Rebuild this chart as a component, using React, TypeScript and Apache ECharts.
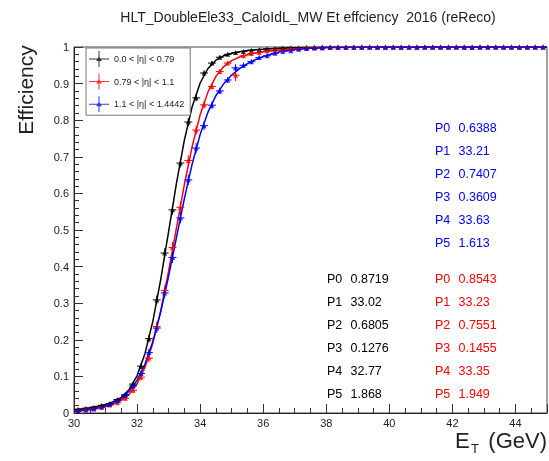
import React, { useEffect, useRef } from "react";
import * as echarts from "echarts";

const xBins = [30.125, 30.375, 30.625, 30.875, 31.125, 31.375, 31.625, 31.875, 32.125, 32.375, 32.625, 32.875, 33.125, 33.375, 33.625, 33.875, 34.125, 34.375, 34.625, 34.875, 35.125, 35.375, 35.625, 35.875, 36.125, 36.375, 36.625, 36.875, 37.125, 37.375, 37.625, 37.875, 38.125, 38.375, 38.625, 38.875, 39.125, 39.375, 39.625, 39.875, 40.125, 40.375, 40.625, 40.875, 41.125, 41.375, 41.625, 41.875, 42.125, 42.375, 42.625, 42.875, 43.125, 43.375, 43.625, 43.875, 44.125, 44.375, 44.625, 44.875];
const binHalfWidth = 0.125;

const blackEff = [0.010, 0.013, 0.016, 0.021, 0.025, 0.037, 0.050, 0.079, 0.128, 0.203,
  0.309, 0.437, 0.555, 0.683, 0.795, 0.861, 0.929, 0.956, 0.972, 0.980,
  0.985, 0.988, 0.991, 0.993, 0.995, 0.996, 0.997, 0.998, 0.998, 0.999,
  0.999, 1.000, 0.999, 1.000, 0.999, 0.999, 1.000, 1.000, 0.999, 1.000,
  1.000, 0.999, 1.000, 1.000, 1.000, 0.999, 1.000, 1.000, 1.000, 1.000,
  0.999, 1.000, 1.000, 1.000, 1.000, 1.000, 0.999, 1.000, 1.000, 1.000];
const blackErr = [0.002, 0.002, 0.003, 0.003, 0.003, 0.004, 0.005, 0.006, 0.008, 0.010,
  0.012, 0.013, 0.013, 0.012, 0.011, 0.009, 0.007, 0.006, 0.005, 0.004,
  0.004, 0.003, 0.003, 0.002, 0.002, 0.002, 0.002, 0.001, 0.001, 0.001,
  0.001, 0.001, 0.001, 0.001, 0.001, 0.001, 0.001, 0.001, 0.001, 0.001,
  0.001, 0.001, 0.001, 0.001, 0.001, 0.001, 0.001, 0.001, 0.001, 0.001,
  0.001, 0.001, 0.001, 0.001, 0.001, 0.001, 0.001, 0.001, 0.001, 0.001];

const redEff = [0.006, 0.010, 0.012, 0.015, 0.022, 0.028, 0.040, 0.062, 0.098, 0.150,
  0.236, 0.335, 0.452, 0.562, 0.690, 0.773, 0.842, 0.892, 0.933, 0.956,
  0.923, 0.976, 0.982, 0.985, 0.989, 0.991, 0.993, 0.995, 0.996, 0.997,
  0.998, 0.998, 0.999, 0.999, 1.000, 0.999, 1.000, 0.999, 1.000, 1.000,
  0.999, 1.000, 1.000, 1.000, 0.999, 1.000, 1.000, 1.000, 1.000, 0.999,
  1.000, 1.000, 1.000, 1.000, 1.000, 1.000, 1.000, 0.999, 1.000, 1.000];
const redErr = [0.002, 0.003, 0.003, 0.003, 0.004, 0.005, 0.006, 0.007, 0.009, 0.011,
  0.013, 0.014, 0.015, 0.015, 0.014, 0.012, 0.010, 0.008, 0.007, 0.006,
  0.016, 0.005, 0.004, 0.004, 0.003, 0.003, 0.002, 0.002, 0.002, 0.002,
  0.001, 0.001, 0.001, 0.001, 0.001, 0.001, 0.001, 0.001, 0.001, 0.001,
  0.001, 0.001, 0.001, 0.001, 0.001, 0.001, 0.001, 0.001, 0.001, 0.001,
  0.001, 0.001, 0.001, 0.001, 0.001, 0.001, 0.001, 0.001, 0.001, 0.001];

const blueEff = [0.005, 0.008, 0.011, 0.017, 0.023, 0.034, 0.048, 0.074, 0.108, 0.165,
  0.232, 0.328, 0.425, 0.533, 0.637, 0.724, 0.785, 0.841, 0.880, 0.910,
  0.943, 0.950, 0.960, 0.971, 0.976, 0.983, 0.988, 0.990, 0.994, 0.996,
  0.997, 0.998, 0.999, 0.999, 0.999, 1.000, 0.999, 1.000, 1.000, 0.999,
  1.000, 1.000, 1.000, 0.999, 1.000, 1.000, 1.000, 1.000, 1.000, 1.000,
  0.999, 1.000, 1.000, 1.000, 1.000, 1.000, 1.000, 1.000, 1.000, 1.000];
const blueErr = [0.002, 0.002, 0.003, 0.003, 0.004, 0.005, 0.006, 0.007, 0.009, 0.011,
  0.013, 0.014, 0.015, 0.015, 0.014, 0.013, 0.012, 0.010, 0.009, 0.008,
  0.010, 0.007, 0.006, 0.005, 0.004, 0.004, 0.003, 0.003, 0.002, 0.002,
  0.001, 0.001, 0.001, 0.001, 0.001, 0.001, 0.001, 0.001, 0.001, 0.001,
  0.001, 0.001, 0.001, 0.001, 0.001, 0.001, 0.001, 0.001, 0.001, 0.001,
  0.001, 0.001, 0.001, 0.001, 0.001, 0.001, 0.001, 0.001, 0.001, 0.001];

// fitted turn-on curves
const fitX = [30, 30.25, 30.5, 30.75, 31, 31.25, 31.5, 31.75, 32, 32.25, 32.5, 32.75, 33, 33.25, 33.5, 33.75, 34, 34.25, 34.5, 34.75, 35, 35.25, 35.5, 35.75, 36, 36.5, 37, 37.5, 38, 39, 40, 45];
const blackFit = [0.0088, 0.0113, 0.0144, 0.0182, 0.0232, 0.0306, 0.0428, 0.0643, 0.1017, 0.1622, 0.2504, 0.3647, 0.4958, 0.628, 0.7455, 0.8377, 0.9016, 0.9414, 0.964, 0.9763, 0.9831, 0.9872, 0.9902, 0.9924, 0.9941, 0.9966, 0.998, 0.9987, 0.9992, 0.9995, 0.9995, 0.9995];
const redFit = [0.0062, 0.0081, 0.0106, 0.0137, 0.0179, 0.0241, 0.0343, 0.0513, 0.0796, 0.1246, 0.1907, 0.2794, 0.3873, 0.506, 0.6237, 0.7292, 0.8146, 0.8774, 0.9198, 0.9465, 0.9628, 0.9726, 0.9791, 0.9835, 0.9872, 0.9921, 0.9954, 0.9974, 0.9986, 0.9996, 0.9998, 0.9998];
const blueFit = [0.0044, 0.0065, 0.0095, 0.0137, 0.0195, 0.0279, 0.0404, 0.0596, 0.089, 0.1331, 0.1952, 0.2764, 0.3737, 0.4799, 0.5856, 0.6812, 0.7606, 0.8221, 0.8672, 0.8997, 0.9233, 0.9409, 0.9546, 0.9655, 0.9741, 0.9861, 0.9931, 0.9967, 0.9985, 0.9995, 0.9997, 0.9997];

const seriesNames = ["0.0 < |η| < 0.79", "0.79 < |η| < 1.1", "1.1 < |η| < 1.4442"];
const seriesColors = ["#000000", "#ff0000", "#0000ff"];

const paramNames = ["P0", "P1", "P2", "P3", "P4", "P5"];
const blackParams = ["0.8719", "33.02", "0.6805", "0.1276", "32.77", "1.868"];
const redParams = ["0.8543", "33.23", "0.7551", "0.1455", "33.35", "1.949"];
const blueParams = ["0.6388", "33.21", "0.7407", "0.3609", "33.63", "1.613"];

const titleText = "HLT_DoubleEle33_CaloIdL_MW Et effciency \u00a02016 (reReco)";
const FONT = "'Liberation Sans', Arial, Helvetica, sans-serif";

export default function App() {
  const ref = useRef<HTMLDivElement>(null);
  useEffect(() => {
    document.body.style.margin = "0";
    const chart = echarts.init(ref.current!, null, { renderer: "svg" });
    const effs = [blackEff, redEff, blueEff];
    const errs = [blackErr, redErr, blueErr];
    const fits = [blackFit, redFit, blueFit];

    const series: any[] = [];
    effs.forEach((eff, k) => {
      const color = seriesColors[k];
      series.push({
        type: "line",
        name: seriesNames[k] + " fit",
        data: fitX.map((x, i) => [x, fits[k][i]]),
        showSymbol: false,
        smooth: false,
        lineStyle: { color, width: 1.5 },
        z: 2,
      });
      series.push({
        type: "custom",
        name: seriesNames[k] + " err",
        data: xBins.map((x, i) => [x, eff[i], errs[k][i]]),
        encode: { x: 0, y: 1 },
        clip: true,
        z: 3,
        renderItem: (params: any, api: any) => {
          const x = api.value(0);
          const y = api.value(1);
          const e = api.value(2);
          const p1 = api.coord([x, y - e]);
          const p2 = api.coord([x, y + e]);
          const pl = api.coord([x - binHalfWidth, y]);
          const pr = api.coord([x + binHalfWidth, y]);
          return {
            type: "group",
            children: [
              { type: "line", shape: { x1: p1[0], y1: p1[1], x2: p2[0], y2: p2[1] }, style: { stroke: color, lineWidth: 1 } },
              { type: "line", shape: { x1: pl[0], y1: pl[1], x2: pr[0], y2: pr[1] }, style: { stroke: color, lineWidth: 1 } },
            ],
          };
        },
      });
      series.push({
        type: "scatter",
        name: seriesNames[k],
        data: xBins.map((x, i) => [x, eff[i]]),
        symbol: "triangle",
        symbolSize: 5,
        itemStyle: { color },
        z: 4,
      });
    });

    const graphics: any[] = [
      { type: "text", x: 308, y: 17, style: { text: titleText, fill: "#222", font: `14px ${FONT}`, textAlign: "center", textVerticalAlign: "middle" } },
      { type: "text", x: 25, y: 90, rotation: Math.PI / 2, style: { text: "Efficiency", fill: "#222", font: `21px ${FONT}`, textAlign: "center", textVerticalAlign: "middle" } },
      { type: "text", x: 455, y: 440.5, style: { text: "E", fill: "#222", font: `22px ${FONT}`, lineHeight: 16, textAlign: "left", textVerticalAlign: "middle" } },
      { type: "text", x: 471, y: 448.5, style: { text: "T", fill: "#222", font: `13px ${FONT}`, lineHeight: 10, textAlign: "left", textVerticalAlign: "middle" } },
      { type: "text", x: 547, y: 440.5, style: { text: "(GeV)", fill: "#222", font: `22px ${FONT}`, lineHeight: 16, textAlign: "right", textVerticalAlign: "middle" } },
    ];
    const addParams = (vals: string[], color: string, x0: number, y0: number) => {
      vals.forEach((v, i) => {
        const y = y0 + i * 22.9;
        graphics.push({ type: "text", x: x0, y, style: { text: paramNames[i], fill: color, font: `12.5px ${FONT}`, textAlign: "left", textVerticalAlign: "middle" } });
        graphics.push({ type: "text", x: x0 + 23.5, y, style: { text: v, fill: color, font: `12.5px ${FONT}`, textAlign: "left", textVerticalAlign: "middle" } });
      });
    };
    addParams(blueParams, "#0000ff", 435, 128);
    addParams(blackParams, "#000000", 327, 279);
    addParams(redParams, "#ff0000", 435, 279);

    const legendIcon = "path://M0,7.5H20V8.5H0Z M9.5,0H10.5V16H9.5Z M7.2,10L10,5.2L12.8,10Z";

    chart.setOption({
      animation: false,
      grid: { left: 74, right: 2, top: 47, bottom: 48, show: true, borderColor: "#444", borderWidth: 1, backgroundColor: "transparent" },
      xAxis: {
        type: "value",
        min: 30,
        max: 45,
        interval: 2,
        axisLine: { lineStyle: { color: "#222" } },
        axisTick: { inside: true, length: 9, lineStyle: { color: "#333" } },
        minorTick: { show: true, splitNumber: 4, length: 5, lineStyle: { color: "#333" } },
        splitLine: { show: false },
        axisLabel: { color: "#222", fontSize: 11, fontFamily: FONT, margin: 4, showMaxLabel: false },
      },
      yAxis: {
        type: "value",
        min: 0,
        max: 1,
        interval: 0.1,
        axisLine: { show: true, lineStyle: { color: "#222" } },
        axisTick: { show: true, inside: true, length: 9, lineStyle: { color: "#333" } },
        minorTick: { show: true, splitNumber: 5, length: 5, lineStyle: { color: "#333" } },
        splitLine: { show: false },
        axisLabel: { color: "#222", fontSize: 11, fontFamily: FONT, margin: 5 },
      },
      legend: {
        data: seriesNames.map((n) => ({ name: n, icon: legendIcon })),
        orient: "vertical",
        left: 86,
        top: 48,
        itemWidth: 20,
        itemHeight: 16,
        itemGap: 6.6,
        padding: [3, 6, 3, 3],
        borderColor: "#777",
        borderWidth: 1,
        backgroundColor: "#fff",
        selectedMode: false,
        textStyle: { fontSize: 9, color: "#222", fontFamily: FONT },
      },
      graphic: graphics,
      series,
    });
    return () => chart.dispose();
  }, []);
  return <div ref={ref} style={{ position: "fixed", left: 0, top: 0, width: 549, height: 461 }} />;
}
